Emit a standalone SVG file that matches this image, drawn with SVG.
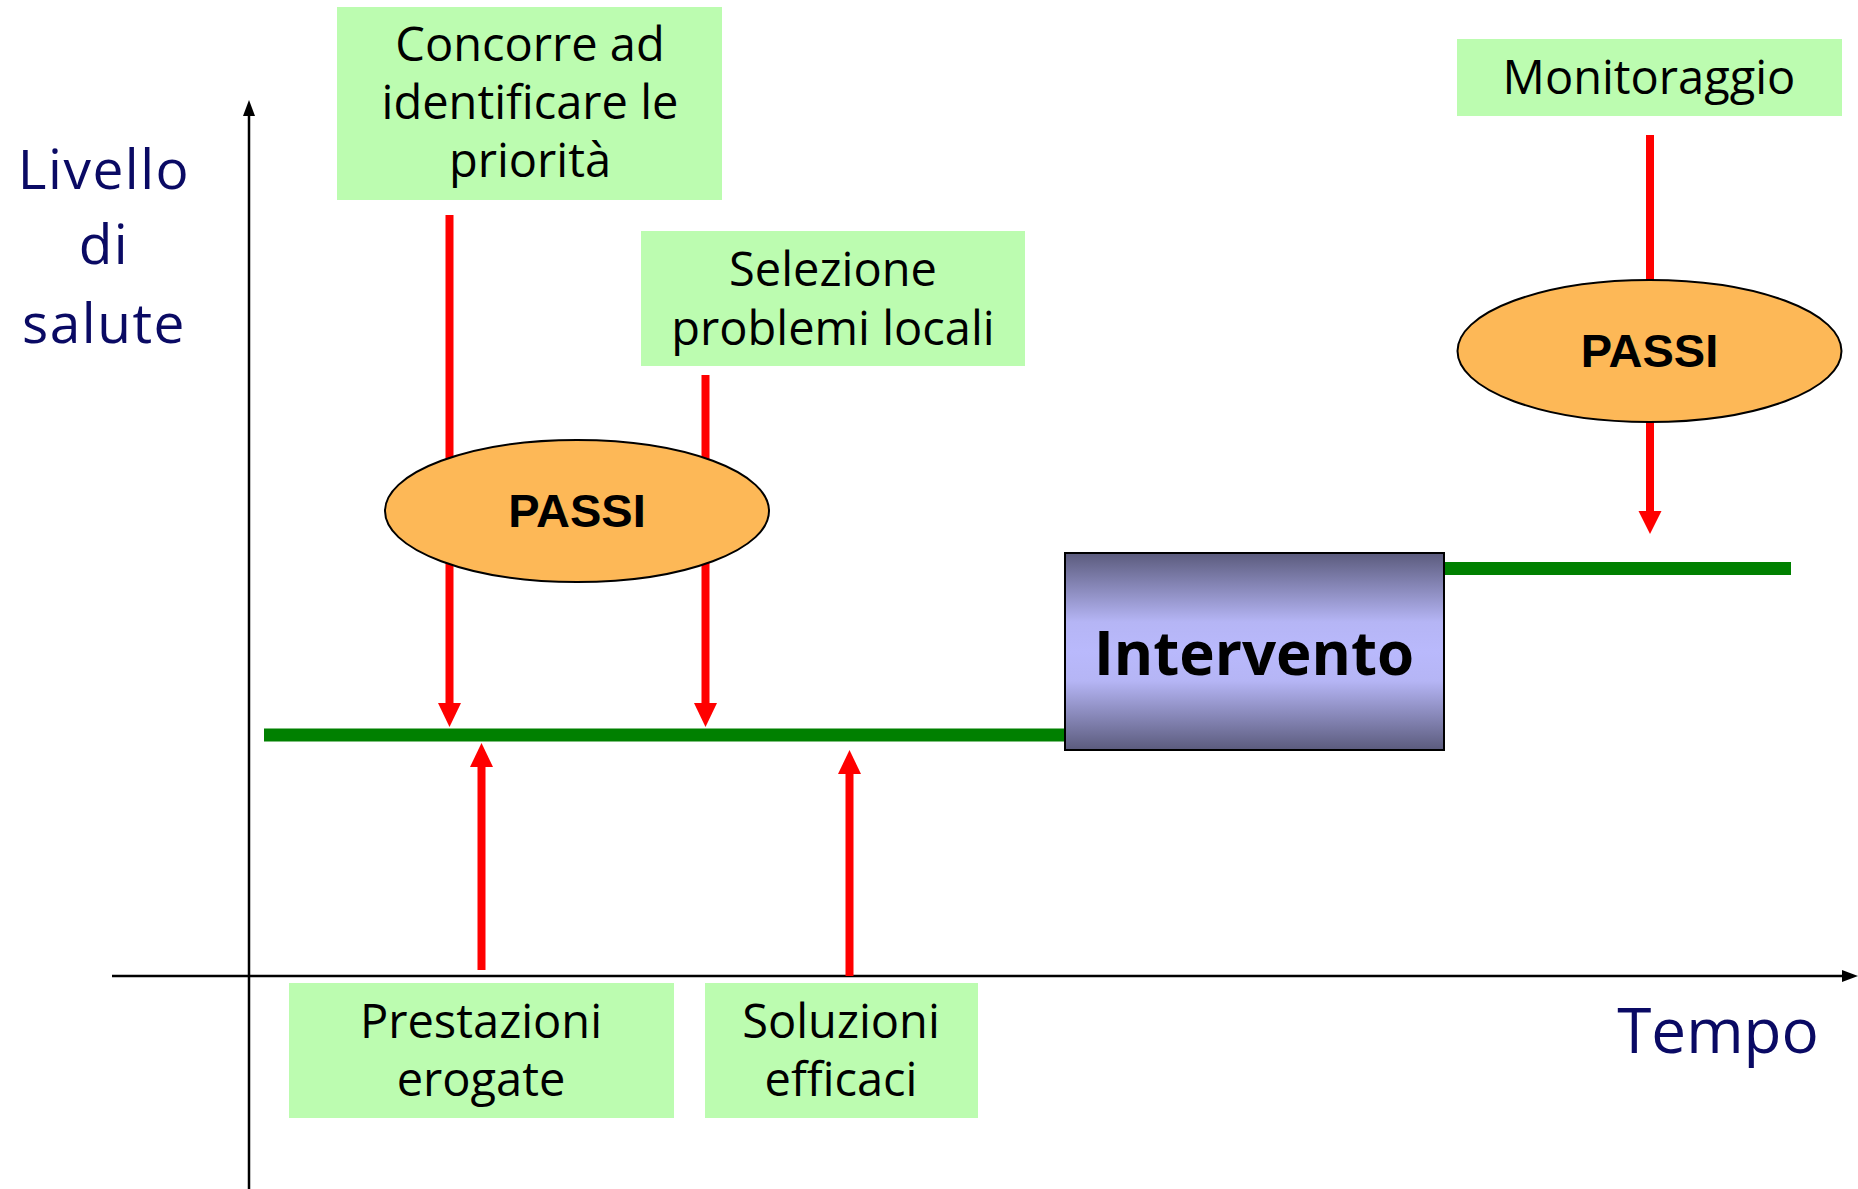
<svg xmlns="http://www.w3.org/2000/svg" width="1858" height="1189" viewBox="0 0 1858 1189">
<style>
.lbl{fill:#bcfcb0;stroke:none}
.t{font-family:"Comic Sans MS","Open Sans","DejaVu Sans",sans-serif;font-size:47px;fill:#000;text-anchor:middle}
.ax{font-family:"Comic Sans MS","Open Sans","DejaVu Sans",sans-serif;font-size:62px;fill:#0a0a64;text-anchor:middle}
.ay{font-size:55px;letter-spacing:1.5px}
.passi{fill:#fdb857;stroke:#000;stroke-width:2}
.pt{font-family:"Liberation Sans",Arial,sans-serif;font-weight:bold;font-size:47px;fill:#000;text-anchor:middle}
.red{stroke:#ff0000;stroke-width:8;fill:none}
.rh{fill:#ff0000}
.grn{stroke:#008000;stroke-width:13;fill:none}
.axis{stroke:#000;stroke-width:2.5;fill:none}
</style>
<defs>
<linearGradient id="gInt" x1="0" y1="0" x2="0" y2="1">
<stop offset="0" stop-color="#5b5b7d"/>
<stop offset="0.35" stop-color="#b5b5f5"/>
<stop offset="0.5" stop-color="#b9b9fc"/>
<stop offset="0.65" stop-color="#b5b5f5"/>
<stop offset="1" stop-color="#5b5b7d"/>
</linearGradient>
</defs>

<g id="axes">
<line class="axis" x1="249" y1="1189" x2="249" y2="112"/>
<polygon points="249,100 243,116 255,116" fill="#000"/>
<line class="axis" x1="112" y1="976" x2="1846" y2="976"/>
<polygon points="1858,976 1842,970 1842,982" fill="#000"/>
<text class="ax ay" x="104" y="189">Livello</text>
<text class="ax ay" x="104" y="264">di</text>
<text class="ax ay" x="104" y="343">salute</text>
<text class="ax" x="1718" y="1053">Tempo</text>
</g>

<g id="connectors">
<line class="red" x1="449.5" y1="215" x2="449.5" y2="705"/>
<polygon class="rh" points="449.5,727 438,703 461,703"/>
<line class="red" x1="705.5" y1="375" x2="705.5" y2="705"/>
<polygon class="rh" points="705.5,727 694,703 717,703"/>
<line class="red" x1="481.5" y1="970" x2="481.5" y2="765"/>
<polygon class="rh" points="481.5,743 470,767 493,767"/>
<line class="red" x1="849.5" y1="976" x2="849.5" y2="772"/>
<polygon class="rh" points="849.5,750 838,774 861,774"/>
<line class="red" x1="1650" y1="135" x2="1650" y2="513"/>
<polygon class="rh" points="1650,534 1638.5,511 1661.5,511"/>
<line class="grn" x1="264" y1="735" x2="1066" y2="735"/>
<line class="grn" x1="1443" y1="568.5" x2="1791" y2="568.5"/>
</g>

<g id="box-concorre">
<rect class="lbl" x="337" y="7" width="385" height="193"/>
<text class="t" x="530" y="61">Concorre ad</text>
<text class="t" x="530" y="119">identificare le</text>
<text class="t" x="530" y="177">priorità</text>
</g>

<g id="box-selezione">
<rect class="lbl" x="641" y="231" width="384" height="135"/>
<text class="t" x="833" y="286">Selezione</text>
<text class="t" x="833" y="345">problemi locali</text>
</g>

<g id="box-monitoraggio">
<rect class="lbl" x="1457" y="39" width="385" height="77"/>
<text class="t" x="1649" y="94">Monitoraggio</text>
</g>

<g id="box-prestazioni">
<rect class="lbl" x="289" y="983" width="385" height="135"/>
<text class="t" x="481" y="1038">Prestazioni</text>
<text class="t" x="481" y="1096">erogate</text>
</g>

<g id="box-soluzioni">
<rect class="lbl" x="705" y="983" width="273" height="135"/>
<text class="t" x="841" y="1038">Soluzioni</text>
<text class="t" x="841" y="1096">efficaci</text>
</g>

<g id="passi-1">
<ellipse class="passi" cx="577" cy="511" rx="192" ry="71"/>
<text class="pt" x="577" y="527">PASSI</text>
</g>

<g id="passi-2">
<ellipse class="passi" cx="1649.5" cy="351" rx="192" ry="71"/>
<text class="pt" x="1649.5" y="367">PASSI</text>
</g>

<g id="intervento">
<rect x="1065" y="553" width="379" height="197" fill="url(#gInt)" stroke="#000" stroke-width="2"/>
<text x="1254" y="675" font-family="'Comic Sans MS','Open Sans','DejaVu Sans',sans-serif" font-weight="bold" font-size="60" fill="#000" text-anchor="middle">Intervento</text>
</g>
</svg>
